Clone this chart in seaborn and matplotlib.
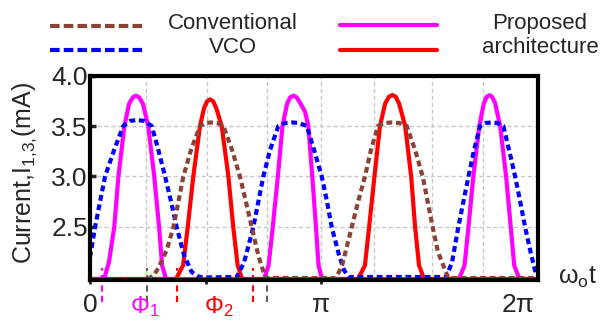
import numpy as np
import pandas as pd
import matplotlib
matplotlib.use('Agg')
import matplotlib.pyplot as plt
from matplotlib.lines import Line2D
import seaborn as sns

# x axis: omega_o*t in units of pi, y axis: current in mA
mag_x = [0, 0.061, 0.082, 0.105, 0.123, 0.149, 0.169, 0.186, 0.199, 0.212, 0.229, 0.252, 0.278, 0.299, 0.312, 0.329,
         0.753, 0.773, 0.791, 0.813, 0.833, 0.853, 0.867, 0.880, 0.894, 0.909, 0.931, 0.945, 0.962, 0.978, 0.989, 1.004,
         1.597, 1.621, 1.638, 1.659, 1.685, 1.704, 1.717, 1.729, 1.740, 1.753, 1.775, 1.801, 1.821, 1.836, 1.858, 1.939]
mag_y = [1.985, 1.985, 2.15, 2.50, 3.00, 3.50, 3.72, 3.785, 3.80, 3.785, 3.72, 3.50, 3.00, 2.50, 2.12, 1.985,
         1.985, 2.12, 2.50, 3.00, 3.50, 3.72, 3.785, 3.80, 3.785, 3.73, 3.64, 3.50, 3.00, 2.50, 2.12, 1.985,
         1.985, 2.12, 2.50, 3.00, 3.50, 3.72, 3.79, 3.805, 3.79, 3.73, 3.50, 3.00, 2.50, 2.12, 1.985, 1.985]

red_x = [0, 0.372, 0.403, 0.423, 0.447, 0.476, 0.494, 0.507, 0.520, 0.533, 0.546, 0.570, 0.599, 0.620, 0.639, 0.658,
         1.160, 1.190, 1.208, 1.231, 1.255, 1.277, 1.294, 1.309, 1.323, 1.338, 1.364, 1.390, 1.407, 1.424, 1.446, 1.939]
red_y = [1.985, 1.985, 2.12, 2.50, 3.00, 3.50, 3.68, 3.745, 3.764, 3.745, 3.68, 3.50, 3.00, 2.50, 2.12, 1.985,
         1.985, 2.12, 2.50, 3.00, 3.50, 3.72, 3.79, 3.807, 3.79, 3.72, 3.50, 3.00, 2.50, 2.12, 1.985, 1.985]

blue_x = [0, 0.022, 0.065, 0.104, 0.144, 0.173, 0.204, 0.234, 0.267, 0.294, 0.325, 0.351, 0.375, 0.407, 0.440, 0.468, 0.489,
          0.635, 0.667, 0.707, 0.750, 0.779, 0.815, 0.844, 0.875, 0.905, 0.938, 0.970, 1.003, 1.026, 1.046, 1.078, 1.100, 1.121,
          1.541, 1.567, 1.594, 1.638, 1.662, 1.688, 1.714, 1.739, 1.762, 1.789, 1.814, 1.840, 1.862, 1.883, 1.905, 1.926, 1.939]
blue_y = [2.20, 2.50, 3.00, 3.26, 3.50, 3.55, 3.56, 3.55, 3.50, 3.28, 3.00, 2.75, 2.50, 2.22, 2.054, 2.01, 2.00,
          2.005, 2.15, 2.50, 3.00, 3.26, 3.50, 3.53, 3.535, 3.53, 3.50, 3.26, 3.00, 2.75, 2.50, 2.22, 2.07, 2.005,
          2.005, 2.15, 2.50, 3.00, 3.26, 3.50, 3.53, 3.535, 3.53, 3.50, 3.26, 3.00, 2.75, 2.50, 2.27, 2.07, 2.015]

brown_x = [0, 0.251, 0.277, 0.296, 0.332, 0.361, 0.404, 0.437, 0.476, 0.498, 0.524, 0.550, 0.577, 0.615, 0.649, 0.675, 0.700, 0.723, 0.740, 0.762,
           1.065, 1.091, 1.133, 1.160, 1.190, 1.216, 1.246, 1.273, 1.306, 1.338, 1.371, 1.407, 1.440, 1.483, 1.506, 1.537, 1.550, 1.939]
brown_y = [1.985, 1.985, 2.025, 2.094, 2.272, 2.50, 3.00, 3.262, 3.50, 3.53, 3.535, 3.53, 3.50, 3.262, 3.00, 2.748, 2.50, 2.272, 2.124, 1.995,
           1.995, 2.12, 2.50, 2.748, 3.00, 3.262, 3.50, 3.53, 3.535, 3.53, 3.50, 3.262, 3.00, 2.50, 2.252, 2.074, 1.995, 1.995]

# phase markers under the axis
mark_x = [0.051, 0.246, 0.375, 0.704, 0.765]
mark_c = ['#ff00ff', '#606060', '#ff0000', '#ff0000', '#606060']
phi_labels = ['Φ$_1$', 'Φ$_2$']
phi_x = [0.238, 0.558]
phi_c = ['#ff00ff', '#ff0000']

xtick_pos = [0, 0.5, 1.0, 1.853]
xtick_lab = ['0', '', 'π', '2π']
ytick_pos = [2.5, 3.0, 3.5, 4.0]
grid_x = [0.242, 0.506, 0.766, 1.0, 1.229, 1.480, 1.701]

sns.set_style('white')
plt.rcParams['font.family'] = ['Liberation Sans', 'DejaVu Sans']
plt.rcParams['mathtext.default'] = 'regular'

fig = plt.figure(figsize=(6, 3.22), dpi=100)
ax = fig.add_axes([0.15, 0.1304, 0.7467, 0.6351])

# light dashed grid
for g in grid_x:
    ax.axvline(g, color='#c8c8c8', lw=1, ls=(0, (3, 2)), zorder=0)
for g in ytick_pos[:-1]:
    ax.axhline(g, color='#c8c8c8', lw=1, ls=(0, (3, 2)), zorder=0)

dash = (0, (1.4, 0.9))
sns.lineplot(x=mag_x, y=mag_y, ax=ax, color='#ff00ff', lw=3, estimator=None, sort=False, legend=False)
sns.lineplot(x=red_x, y=red_y, ax=ax, color='#ff0000', lw=3, estimator=None, sort=False, legend=False)
sns.lineplot(x=blue_x, y=blue_y, ax=ax, color='#0000ff', lw=3, linestyle=dash, estimator=None, sort=False, legend=False)
sns.lineplot(x=brown_x, y=brown_y, ax=ax, color='#8b4336', lw=3, linestyle=dash, estimator=None, sort=False, legend=False)

ax.set_xlim(0, 1.939)
ax.set_ylim(1.975, 4.0)

ax.vlines(mark_x, 1.757, 2.094, colors=mark_c, linestyles=(0, (3, 2)), lw=1.5, clip_on=False, zorder=1)
for lab, x, c in zip(phi_labels, phi_x, phi_c):
    ax.text(x, 1.585, lab, color=c, ha='center', va='bottom', fontsize=17, clip_on=False)

ax.set_xticks(xtick_pos, labels=xtick_lab)
ax.set_yticks(ytick_pos, labels=[f'{v:.1f}' for v in ytick_pos])
ax.tick_params(axis='x', direction='out', length=3, width=2, pad=6, labelsize=19, bottom=True)
ax.tick_params(axis='y', direction='in', length=4, width=2.5, pad=1.5, labelsize=19, left=True)
ax.xaxis.get_major_ticks()[-1].tick1line.set_visible(False)

for s in ax.spines.values():
    s.set_linewidth(3)
    s.set_color('black')

ax.set_ylabel('Current,I$_{1{,}3{,}}$(mA)', fontsize=18, va='center')
ax.yaxis.set_label_coords(-0.146, 0.523)
ax.set_xlabel('ω$_o$t', fontsize=18, va='center')
ax.xaxis.set_label_coords(1.088, 0.015)

# legend drawn by hand: two line samples per text block
leg_dash = (0, (2.3, 1.0))
fig.add_artist(Line2D([0.083, 0.243], [0.920, 0.920], transform=fig.transFigure, color='#8b4336', lw=3, ls=leg_dash))
fig.add_artist(Line2D([0.083, 0.243], [0.845, 0.845], transform=fig.transFigure, color='#0000ff', lw=3, ls=leg_dash))
fig.add_artist(Line2D([0.567, 0.728], [0.922, 0.922], transform=fig.transFigure, color='#ff00ff', lw=3))
fig.add_artist(Line2D([0.567, 0.728], [0.845, 0.845], transform=fig.transFigure, color='#ff0000', lw=3))
fig.text(0.388, 0.911, 'Conventional', ha='center', va='baseline', fontsize=16)
fig.text(0.388, 0.835, 'VCO', ha='center', va='baseline', fontsize=16)
fig.text(0.900, 0.911, 'Proposed', ha='center', va='baseline', fontsize=16)
fig.text(0.900, 0.835, 'architecture', ha='center', va='baseline', fontsize=16)

fig.savefig('out.png', dpi=100)
